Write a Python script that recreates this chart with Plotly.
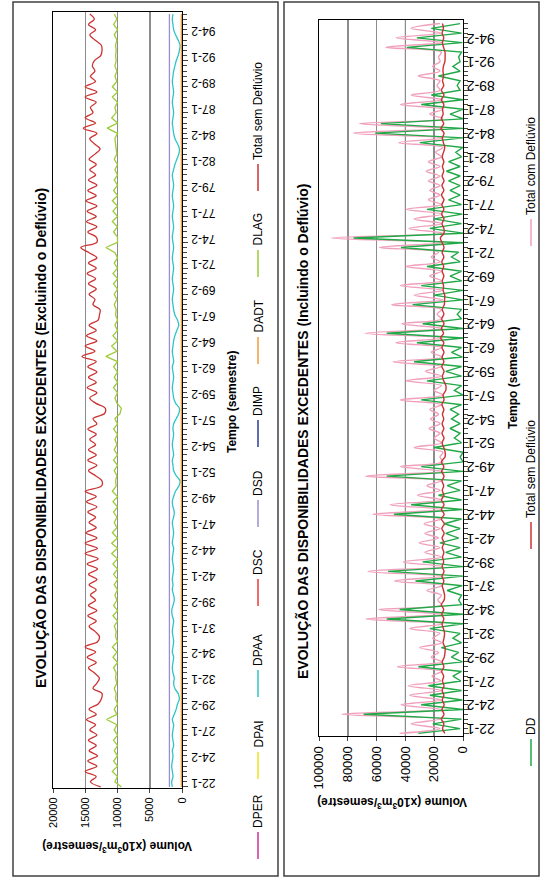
import plotly.graph_objects as go

W, H = 542, 878
FONT = "Liberation Sans, Arial, sans-serif"

# semester index: 0 = 22-1, 1 = 22-2, ... 149 = 96-2
semestre = list(range(150))
tick_idx = [0, 5, 10, 15, 20, 25, 30, 35, 40, 45, 50, 55, 60, 65, 70, 75, 80, 85,
            90, 95, 100, 105, 110, 115, 120, 125, 130, 135, 140, 145]
tick_labels = ["22-1", "24-2", "27-1", "29-2", "32-1", "34-2", "37-1", "39-2", "42-1",
               "44-2", "47-1", "49-2", "52-1", "54-2", "57-1", "59-2", "62-1", "64-2",
               "67-1", "69-2", "72-1", "74-2", "77-1", "79-2", "82-1", "84-2", "87-1",
               "89-2", "92-1", "94-2"]

# ---------------- left chart (Excluindo o Deflúvio) ----------------
total_sem = [12600, 14200, 13300, 15000, 13200, 14600, 13100, 14400, 13300, 14500,
             13200, 14300, 13400, 14800, 13300, 14400, 13000, 12500, 12400, 13800,
             13200, 12800, 13600, 14500, 13300, 14700, 13400, 15000, 13100, 12800,
             13500, 14400, 13300, 14600, 13200, 14500, 13400, 14200, 13300, 14400,
             13200, 14500, 13100, 14700, 13000, 15000, 13100, 15000, 13200, 14900,
             13300, 14400, 13400, 14600, 13200, 14800, 13300, 15000, 12500, 12400,
             13400, 14500, 13200, 14600, 13300, 14500, 13400, 14300, 13300, 14600,
             13200, 13800, 12000, 11900, 13400, 14300, 13200, 14700, 13300, 14500,
             13200, 14600, 13300, 15500, 13500, 15000, 13200, 14800, 13300, 14400,
             13000, 12800, 12700, 13800, 13500, 14400, 13300, 14500, 13400, 14700,
             13300, 14500, 13200, 14400, 15700, 13200, 13300, 14600, 13200, 14800,
             13300, 14700, 13200, 14900, 13300, 14600, 13200, 14500, 13400, 14300,
             13300, 14400, 13500, 12700, 13600, 14300, 13200, 15300, 13400, 15000,
             13800, 14200, 13300, 15000, 13200, 15000, 13400, 14200, 13500, 13900,
             13600, 12600, 12400, 12500, 13500, 14300, 13400, 14500, 13600, 14300]

dlag = [9400, 10400, 10000, 10800, 10000, 10600, 10000, 10500, 10000, 10600,
        10000, 10500, 10100, 11700, 10100, 10500, 10000, 10300, 10200, 10500,
        10100, 10300, 10200, 10600, 10000, 10700, 10100, 10800, 10000, 10300,
        10200, 10500, 10000, 10700, 10000, 10600, 10100, 10400, 10000, 10500,
        10000, 10600, 10000, 10700, 10000, 10900, 10000, 10900, 10000, 10800,
        10100, 10500, 10100, 10600, 10000, 10700, 10000, 10800, 10200, 10300,
        10100, 10500, 10000, 10600, 10000, 10500, 10100, 10400, 10000, 10600,
        10000, 10400, 9600, 9400, 10100, 10400, 10000, 10600, 10000, 10500,
        10000, 10600, 10000, 11800, 10100, 10900, 10000, 10700, 10000, 10400,
        10000, 10300, 10200, 10500, 10100, 10500, 10000, 10600, 10000, 10700,
        10000, 10500, 10000, 10400, 11800, 10000, 10000, 10600, 10000, 10800,
        10000, 10700, 10000, 10800, 10000, 10600, 10000, 10500, 10000, 10400,
        10000, 10500, 10100, 10200, 10200, 10400, 10000, 11600, 10000, 10900,
        10200, 10400, 10000, 10800, 10000, 10800, 10100, 10400, 10100, 10400,
        10200, 10300, 10200, 10300, 10100, 10500, 10000, 10600, 10100, 10500]

dpaa = [1500, 1600, 1400, 1500, 1600, 1500, 1400, 1500, 1300, 1400,
        1500, 1400, 1300, 1500, 1200, 900, 700, 400, 600, 1100,
        1300, 1200, 1400, 1500, 1400, 1300, 1500, 1400, 1300, 1400,
        1500, 1400, 1300, 1500, 1600, 1400, 1200, 1300, 1500, 1400,
        1500, 1400, 1300, 1400, 1500, 1400, 1300, 1500, 1400, 1300,
        1400, 1500, 1300, 1200, 1400, 1500, 1300, 1000, 500, 300,
        900, 1300, 1400, 1500, 1300, 1400, 1500, 1400, 1300, 1400,
        1300, 900, 500, 400, 1000, 1300, 1400, 1500, 1400, 1300,
        1400, 1500, 1300, 1400, 1500, 1400, 1300, 1100, 800, 500,
        700, 1100, 1300, 1400, 1500, 1400, 1300, 1400, 1500, 1400,
        1300, 1400, 1500, 1400, 1300, 1400, 1500, 1400, 1300, 1400,
        1500, 1400, 1300, 1400, 1500, 1400, 1300, 1400, 1500, 1300,
        1100, 800, 500, 400, 700, 1100, 1300, 1400, 1500, 1400,
        1300, 1400, 1500, 1400, 1300, 1400, 1500, 1400, 1300, 1100,
        900, 600, 400, 300, 600, 1000, 1300, 1400, 1500, 1400]

dsd = [1950] * 150
dadt = [100] * 150
dper = [0] * 150
dpai = [0] * 150
dsc = [0] * 150
dimp = [0] * 150

# ---------------- right chart (Incluindo o Deflúvio) ----------------
dd = [31000, 2000, 21000, 1000, 69000, 0, 29000, 500, 23000, 1000,
      24000, 1500, 7000, 1000, 31000, 500, 8000, 3000, 15000, 1000,
      7000, 2000, 23000, 0, 53000, 0, 44000, 1000, 3000, 1000,
      11000, 500, 33000, 0, 52000, 0, 28000, 1000, 12000, 2000,
      16000, 3000, 12000, 2000, 13000, 1000, 48000, 500, 36000, 1000,
      17000, 2000, 11000, 1000, 53000, 0, 29000, 0, 2000, 0,
      20000, 1000, 6000, 2000, 9000, 2000, 8000, 3000, 9000, 1000,
      29000, 0, 6000, 1000, 25000, 1000, 12000, 1000, 34000, 500,
      8000, 1000, 32000, 0, 53000, 0, 28000, 1000, 4000, 1000,
      35000, 0, 20000, 0, 29000, 1000, 9000, 1000, 25000, 2000,
      8000, 3000, 43000, 0, 76000, 0, 23000, 1000, 20000, 500,
      25000, 1000, 10000, 2000, 9000, 2000, 10000, 2000, 11500, 2000,
      10000, 1000, 5000, 0, 30000, 0, 61000, 0, 57000, 0,
      9000, 0, 29000, 0, 22000, 2000, 4000, 2000, 17000, 2000,
      7000, 2000, 3000, 1000, 39000, 500, 32000, 1000, 22000, 2000]

total_com = [44000, 16000, 36000, 15500, 84000, 14500, 43000, 15000, 37000, 15000,
             38000, 15500, 21500, 15000, 45500, 14500, 22000, 17000, 30000, 15000,
             21000, 16000, 37000, 14000, 67500, 14000, 58500, 15000, 17500, 15000,
             25000, 14500, 47500, 14000, 66000, 14000, 41500, 15000, 26500, 16000,
             30500, 17000, 26500, 16000, 27000, 15000, 62500, 14500, 50500, 15000,
             31500, 16000, 25000, 15000, 67500, 14000, 43500, 14000, 16000, 14000,
             34000, 15000, 20000, 16000, 23500, 16000, 22500, 17000, 23000, 15000,
             43500, 14000, 20000, 15000, 39500, 15000, 26000, 15000, 48500, 14500,
             22000, 15000, 46500, 14000, 68000, 14000, 42500, 15000, 18000, 15000,
             49500, 14000, 34000, 14000, 43500, 15000, 23000, 15000, 39500, 16000,
             22000, 17000, 58000, 14000, 91500, 14000, 37500, 15000, 34000, 14500,
             39500, 15000, 24000, 16000, 23000, 16000, 24000, 16000, 25500, 16000,
             24000, 15000, 19000, 14000, 44500, 14000, 76000, 14000, 72000, 14000,
             23000, 14000, 43500, 14000, 36000, 16000, 18000, 16000, 31000, 16000,
             21000, 16000, 17000, 15000, 53500, 14500, 46500, 15000, 36000, 16000]

left_vol_ticks = [0, 5000, 10000, 15000, 20000]
right_vol_ticks = [0, 20000, 40000, 60000, 80000, 100000]

C = dict(DPER="#cc3399", DPAI="#f2e21a", DPAA="#2fc4c8", DSC="#e8383a", DSD="#9b8fd0",
         DIMP="#2b3c98", DADT="#f39a3c", DLAG="#9ccc36", TSD="#cc3333", DD="#21a847",
         TCD="#f0a0bd")

fig = go.Figure()

left_series = [("DPER", dper, "linear"), ("DPAI", dpai, "linear"), ("DPAA", dpaa, "spline"),
               ("DSC", dsc, "linear"), ("DSD", dsd, "linear"), ("DIMP", dimp, "linear"),
               ("DADT", dadt, "linear"), ("DLAG", dlag, "linear"),
               ("TSD", total_sem, "spline")]
for key, vals, shp in left_series:
    fig.add_trace(go.Scatter(x=vals, y=semestre, mode="lines", xaxis="x", yaxis="y",
                             line=dict(color=C[key], width=1.3, shape=shp),
                             showlegend=False, hoverinfo="skip"))

right_series = [("TCD", total_com, "spline"), ("DD", dd, "linear"), ("TSD", total_sem, "spline")]
for key, vals, shp in right_series:
    fig.add_trace(go.Scatter(x=vals, y=semestre, mode="lines", xaxis="x2", yaxis="y2",
                             line=dict(color=C[key], width=1.4, shape=shp),
                             showlegend=False, hoverinfo="skip"))

def px_x(p):
    return p / W

def px_y(p):
    return 1 - p / H

axis_common = dict(showline=True, linecolor="black", linewidth=1, mirror=True,
                   zeroline=False, automargin=False)

fig.update_layout(
    width=W, height=H, autosize=False,
    margin=dict(l=0, r=0, t=0, b=0, autoexpand=False),
    paper_bgcolor="white", plot_bgcolor="white",
    font=dict(family=FONT, color="black"),
    xaxis=dict(domain=[px_x(53), px_x(182)], range=[20000, 0], anchor="y",
               tickvals=left_vol_ticks, tickformat="d", tickangle=-90, ticks="outside",
               ticklen=4, tickfont=dict(size=11), showgrid=True, gridcolor="#8c8c8c",
               gridwidth=1.5, **axis_common),
    yaxis=dict(domain=[px_y(788), px_y(12)], range=[-0.2, 149.4], anchor="x", side="right",
               tickvals=tick_idx, ticktext=tick_labels, tickangle=180, ticks="outside",
               ticklen=5, ticklabelstandoff=25, tickfont=dict(size=12), showgrid=False,
               minor=dict(dtick=1, tick0=0, ticks="outside", ticklen=4, showgrid=False),
               **axis_common),
    xaxis2=dict(domain=[px_x(319), px_x(463)], range=[100000, 0], anchor="y2",
                tickvals=right_vol_ticks, tickformat="d", tickangle=-90, ticks="outside",
                ticklen=4, tickfont=dict(size=13), showgrid=True, gridcolor="#8c8c8c",
                gridwidth=1.5, **axis_common),
    yaxis2=dict(domain=[px_y(736), px_y(20)], range=[-0.55, 149.75], anchor="x2", side="right",
                tickvals=tick_idx, ticktext=tick_labels, tickangle=180, ticks="outside",
                ticklen=5, ticklabelstandoff=23, tickfont=dict(size=14), showgrid=False,
                minor=dict(dtick=1, tick0=0, ticks="outside", ticklen=4, showgrid=False),
                **axis_common),
)

shapes = []
# chart frames
for x0, x1 in [(13, 278), (284, 539)]:
    shapes.append(dict(type="rect", xref="paper", yref="paper", x0=px_x(x0), x1=px_x(x1),
                       y0=px_y(876), y1=px_y(2), line=dict(color="#404040", width=1.5)))
# darker gridlines
for v in [5000, 10000]:
    shapes.append(dict(type="line", xref="x", yref="y domain", x0=v, x1=v, y0=0, y1=1,
                       line=dict(color="black", width=1), layer="below"))
shapes.append(dict(type="line", xref="x2", yref="y2 domain", x0=40000, x1=40000, y0=0, y1=1,
                   line=dict(color="black", width=1), layer="below"))

annotations = []

def rot_text(x, y, text, size, bold=False, angle=-90, xanchor="center", yanchor="middle"):
    t = "<b>" + text + "</b>" if bold else text
    annotations.append(dict(xref="paper", yref="paper", x=px_x(x), y=px_y(y), text=t,
                            showarrow=False, textangle=angle, xanchor=xanchor,
                            yanchor=yanchor, font=dict(size=size, family=FONT, color="black")))

# titles
rot_text(40, 438, "EVOLUÇÃO DAS DISPONIBILIDADES EXCEDENTES (Excluindo o Deflúvio)", 14, True)
rot_text(303, 432, "EVOLUÇÃO DAS DISPONIBILIDADES EXCEDENTES (Incluindo o Deflúvio)", 14, True)
# axis titles
rot_text(232, 402, "Tempo (semestre)", 12, True)
rot_text(513, 378, "Tempo (semestre)", 12, True)
rot_text(117, 847, "Volume (x10<sup>3</sup>m<sup>3</sup>/semestre)", 12, True, angle=180)
rot_text(392, 803, "Volume (x10<sup>3</sup>m<sup>3</sup>/semestre)", 12, True, angle=180)

# legends (rotated)
left_legend = [("DPER", "DPER", 830), ("DPAI", "DPAI", 750), ("DPAA", "DPAA", 668),
               ("DSC", "DSC", 577), ("DSD", "DSD", 498), ("DIMP", "DIMP", 418),
               ("DADT", "DADT", 335), ("DLAG", "DLAG", 248),
               ("TSD", "Total sem Deflúvio", 162)]
right_legend = [("TCD", "Total com Deflúvio", 217), ("TSD", "Total sem Deflúvio", 520),
                ("DD", "DD", 737)]
for items, lx in [(left_legend, 258), (right_legend, 531)]:
    for key, label, yb in items:
        shapes.append(dict(type="line", xref="paper", yref="paper", x0=px_x(lx), x1=px_x(lx),
                           y0=px_y(yb + 29), y1=px_y(yb + 2),
                           line=dict(color=C[key], width=1.5)))
        rot_text(lx, yb, label, 12, False, angle=-90, yanchor="bottom")

fig.update_layout(shapes=shapes, annotations=annotations)
fig.write_html("out.html", config={"displayModeBar": False, "staticPlot": True},
               post_script="document.body.style.margin='0';"
                           "document.body.style.overflow='hidden';")
